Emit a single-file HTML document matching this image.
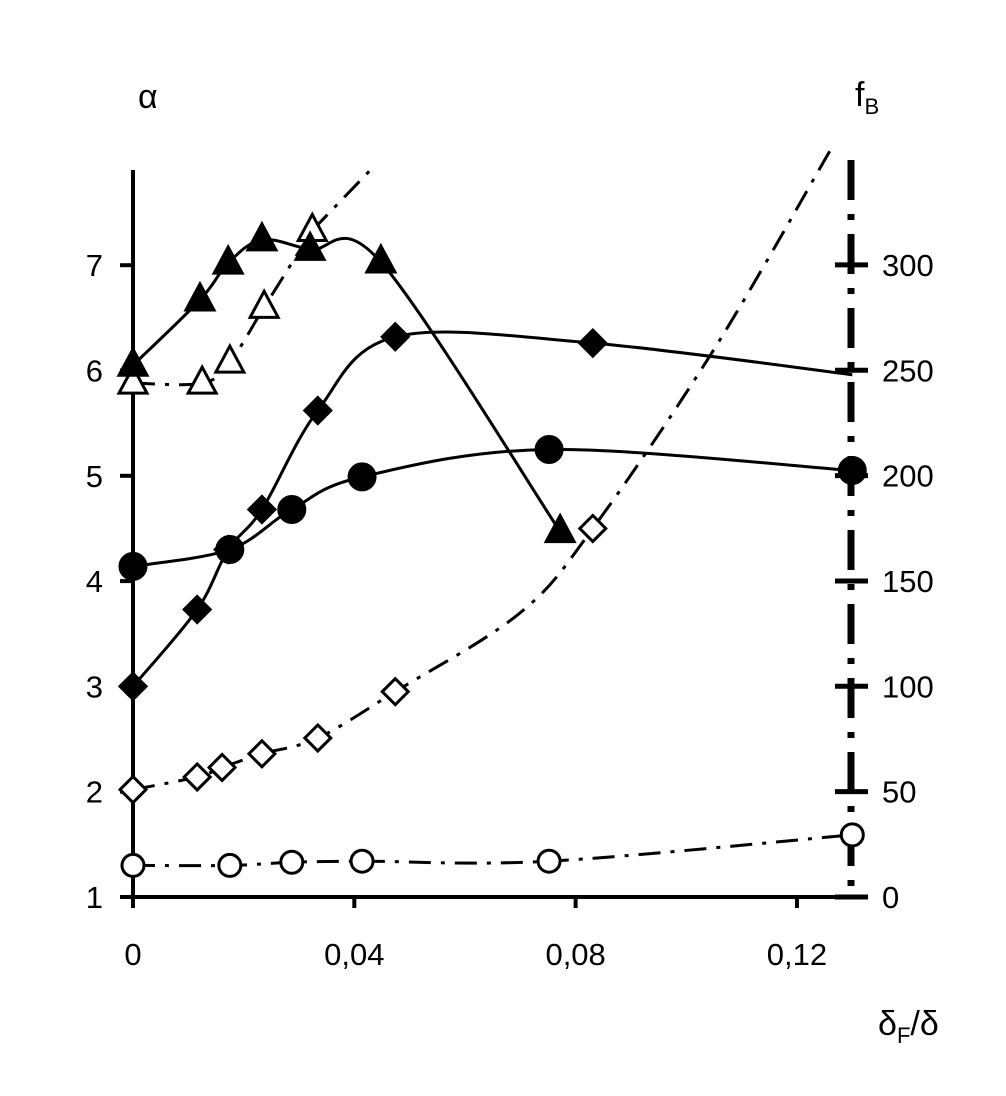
<!DOCTYPE html>
<html><head><meta charset="utf-8"><style>
body{margin:0;background:#fff;width:1006px;height:1091px;overflow:hidden}
text{font-family:"Liberation Sans",Arial,sans-serif;fill:#000}
</style></head><body>
<svg id="chart" width="1006" height="1091" viewBox="0 0 1006 1091" xmlns="http://www.w3.org/2000/svg"></svg>
<script>
const xTicks=[0,0.04,0.08,0.12];
const xTickLabels=["0","0,04","0,08","0,12"];
const yTicks=[1,2,3,4,5,6,7];
const y2Ticks=[0,50,100,150,200,250,300];
// series
const triFilledX=[0,0.0121,0.0172,0.0233,0.0320,0.0448,0.0772];
const triFilledY=[6.05,6.67,7.02,7.24,7.15,7.03,4.47];
const triOpenX=[0,0.0125,0.0175,0.0237,0.0324];
const triOpenY=[5.88,5.88,6.08,6.6,7.33];
const triOpenExtX=[0.0324,0.0432];
const triOpenExtY=[7.33,7.92];
const diaFilledX=[0,0.0116,0.0172,0.0233,0.0334,0.0474,0.0831,0.13];
const diaFilledY=[3,3.73,4.3,4.68,5.62,6.32,6.26,5.96];
const cirFilledX=[0,0.0175,0.0287,0.0414,0.0752,0.13];
const cirFilledY=[4.14,4.3,4.68,4.99,5.25,5.05];
const diaOpenX=[0,0.0116,0.0161,0.0233,0.0334,0.0474,0.0700,0.0831,0.105,0.126];
const diaOpenY=[2.02,2.14,2.23,2.36,2.51,2.95,3.7,4.5,6.2,8.09];
const diaOpenMarked=[1,1,1,1,1,1,0,1,0,0];
const cirOpenX=[0,0.0175,0.0287,0.0414,0.0752,0.13];
const cirOpenY=[1.3,1.3,1.33,1.34,1.34,1.59];

const svg=document.getElementById('chart');
const NS="http://www.w3.org/2000/svg";
const X=v=>133+v*5533;
const Y=v=>897-(v-1)*105.3;
const Y2=v=>897-v*2.107;
function el(t,a,p){const e=document.createElementNS(NS,t);for(const k in a)e.setAttribute(k,a[k]);(p||svg).appendChild(e);return e;}
function smooth(xs,ys){
  const P=xs.map((x,i)=>[X(x),Y(ys[i])]);
  let d=`M${P[0][0]},${P[0][1]}`;
  for(let i=0;i<P.length-1;i++){
    const p0=P[i-1]||P[i],p1=P[i],p2=P[i+1],p3=P[i+2]||P[i+1];
    const c1=[p1[0]+(p2[0]-p0[0])/6,p1[1]+(p2[1]-p0[1])/6];
    const c2=[p2[0]-(p3[0]-p1[0])/6,p2[1]-(p3[1]-p1[1])/6];
    d+=`C${c1[0]},${c1[1]} ${c2[0]},${c2[1]} ${p2[0]},${p2[1]}`;
  }
  return d;
}
// axes
let a=el('line',{x1:133,y1:170,x2:133,y2:898,stroke:'#000','stroke-width':4});

a=el('line',{x1:133,y1:897,x2:851,y2:897,stroke:'#000','stroke-width':4});

a=el('line',{x1:851,y1:160,x2:851,y2:897,stroke:'#000','stroke-width':7,'stroke-dasharray':'40,14,6,14'});

yTicks.forEach(v=>{
  const t=el('line',{x1:120,y1:Y(v),x2:133,y2:Y(v),stroke:'#000','stroke-width':4});
  
  const l=el('text',{x:103,y:Y(v)+11,'font-size':31,'text-anchor':'end'});l.textContent=v;
  
});
y2Ticks.forEach(v=>{
  const t=el('line',{x1:835,y1:Y2(v),x2:868,y2:Y2(v),stroke:'#000','stroke-width':5});
  
  const l=el('text',{x:882,y:Y2(v)+11,'font-size':31});l.textContent=v;
  
});
xTicks.forEach((v,i)=>{
  const t=el('line',{x1:X(v),y1:897,x2:X(v),y2:908,stroke:'#000','stroke-width':4});
  
  const l=el('text',{x:X(v),y:965,'font-size':31,'text-anchor':'middle'});l.textContent=xTickLabels[i];
  
});
let t=el('text',{x:138,y:108,'font-size':34,'font-family':'Liberation Serif'});t.textContent='α';

t=el('text',{x:855,y:106,'font-size':34,'font-family':'Liberation Serif'});t.innerHTML='f<tspan font-size="22" dy="8">B</tspan>';

t=el('text',{x:878,y:1035,'font-size':34,'font-family':'Liberation Serif'});t.innerHTML='δ<tspan font-size="22" dy="8">F</tspan><tspan dy="-8">/δ</tspan>';


function line(xs,ys,dash,name){
  const p=el('path',{d:smooth(xs,ys),fill:'none',stroke:'#000','stroke-width':3,'stroke-dasharray':dash||'none'});
  
}
function marker(type,fill,x,y,name){
  const cx=X(x),cy=Y(y);let m;
  const f=fill?'#000':'#fff';
  if(type==='tri')m=el('polygon',{points:`${cx},${cy-16} ${cx-14},${cy+10} ${cx+14},${cy+10}`,fill:f,stroke:'#000','stroke-width':3});
  else if(type==='dia')m=el('polygon',{points:`${cx},${cy-13} ${cx+13},${cy} ${cx},${cy+13} ${cx-13},${cy}`,fill:f,stroke:'#000','stroke-width':3});
  else m=el('circle',{cx,cy,r:fill?13:11,fill:f,stroke:'#000','stroke-width':3});
  
}
line(cirOpenX,cirOpenY,'22,10,4,10','open-circle-line');
line(diaOpenX,diaOpenY,'22,10,4,10','open-diamond-line');
line(triOpenX,triOpenY,'22,10,4,10','open-triangle-line');
line(triOpenExtX,triOpenExtY,'22,10,4,10','open-triangle-line-ext');
line(cirFilledX,cirFilledY,null,'filled-circle-line');
line(diaFilledX,diaFilledY,null,'filled-diamond-line');
line(triFilledX,triFilledY,null,'filled-triangle-line');
cirOpenX.forEach((x,i)=>marker('cir',false,x,cirOpenY[i],'open-circle-point'));
diaOpenX.forEach((x,i)=>{if(diaOpenMarked[i])marker('dia',false,x,diaOpenY[i],'open-diamond-point');});
triOpenX.forEach((x,i)=>marker('tri',false,x,triOpenY[i],'open-triangle-point'));
cirFilledX.forEach((x,i)=>marker('cir',true,x,cirFilledY[i],'filled-circle-point'));
diaFilledX.slice(0,-1).forEach((x,i)=>marker('dia',true,x,diaFilledY[i],'filled-diamond-point'));
triFilledX.forEach((x,i)=>marker('tri',true,x,triFilledY[i],'filled-triangle-point'));
</script>
</body></html>
